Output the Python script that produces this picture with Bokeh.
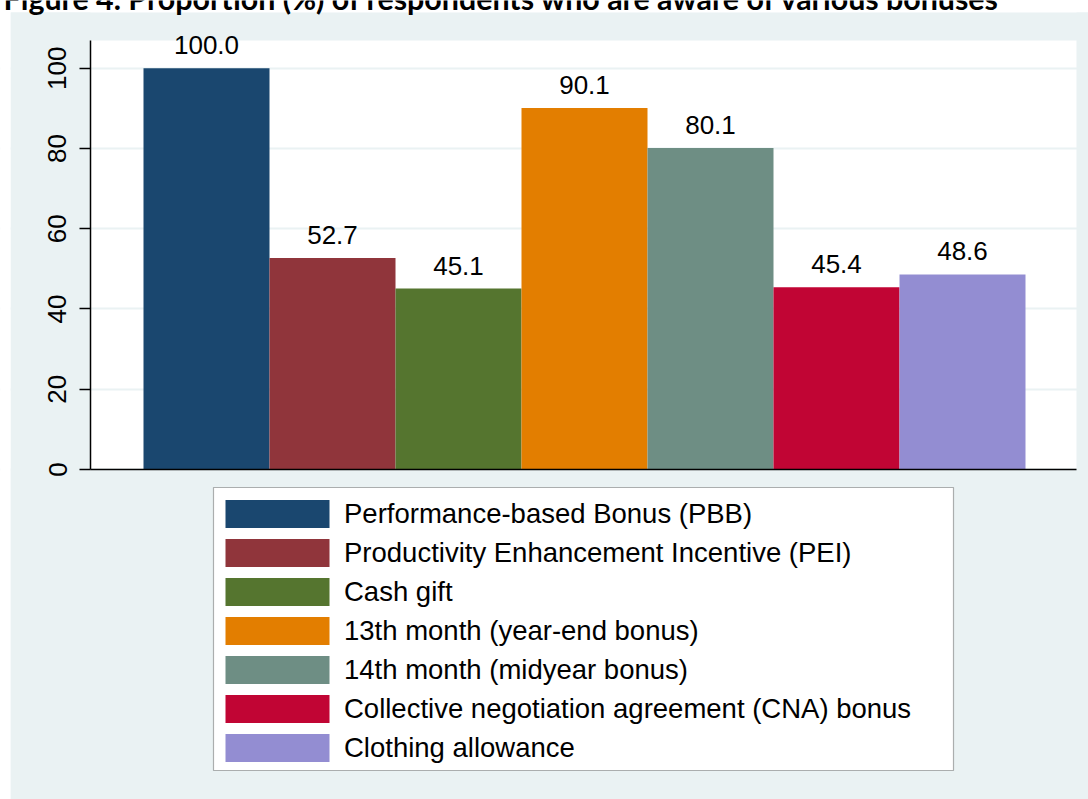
from bokeh.plotting import figure
from bokeh.models import (ColumnDataSource, Range1d, FixedTicker, Legend, LegendItem,
                          Label, LinearAxis, BoxAnnotation)
from bokeh.embed import file_html
from bokeh.resources import INLINE
from bokeh.core.properties import value

# ---- data ----
categories = [
    "Performance-based Bonus (PBB)",
    "Productivity Enhancement Incentive (PEI)",
    "Cash gift",
    "13th month (year-end bonus)",
    "14th month (midyear bonus)",
    "Collective negotiation agreement (CNA) bonus",
    "Clothing allowance",
]
values = [100.0, 52.7, 45.1, 90.1, 80.1, 45.4, 48.6]
colors = ["#1A476F", "#90353B", "#55752F", "#E37E00", "#6E8E84", "#C10534", "#938DD2"]
y_ticks = [0, 20, 40, 60, 80, 100]
title_text = "Figure 4. Proportion (%) of respondents who are aware of various bonuses"

BG = "#EAF2F3"
FONT = "Liberation Sans"

# ---- layout geometry (pixels on the page) ----
W, H = 1088, 799
XPX, X0 = 126.0, 206.0      # px per category, page x of first category centre
YPX, Y0 = 4.013, 469.0      # px per percent, page y of zero line


def xd(px):
    return (px - X0) / XPX


def yd(py):
    return (Y0 - py) / YPX


PLOT_L, PLOT_R, PLOT_T = 90, 1076, 40
REGION_L, REGION_T = 10, 12
LEG_L, LEG_R, LEG_T, LEG_B = 213, 953, 487, 770

p = figure(width=W, height=H, output_backend="svg", toolbar_location=None,
           x_range=Range1d(xd(0), xd(W)), y_range=Range1d(yd(H), yd(0)),
           x_axis_location=None, y_axis_location=None)
p.min_border = 0
p.min_border_left = 0
p.min_border_right = 0
p.min_border_top = 0
p.min_border_bottom = 0
p.title.visible = False
p.border_fill_color = "white"
p.background_fill_color = "white"
p.outline_line_color = None

p.xgrid.grid_line_color = None
p.ygrid.ticker = FixedTicker(ticks=y_ticks)
p.ygrid.grid_line_color = BG
p.ygrid.grid_line_width = 2

# light graph region around the white plot area, white page margin at left
bands = [
    (BG, dict(left=xd(REGION_L), right=xd(W), bottom=yd(PLOT_T), top=yd(REGION_T))),
    (BG, dict(left=xd(REGION_L), right=xd(W), bottom=yd(H), top=0)),
    (BG, dict(left=xd(REGION_L), right=xd(PLOT_L), bottom=yd(H), top=yd(REGION_T))),
    (BG, dict(left=xd(PLOT_R), right=xd(W), bottom=yd(H), top=yd(REGION_T))),
    ("white", dict(left=xd(0), right=xd(REGION_L), bottom=yd(H), top=yd(0))),
]
for col, b in bands:
    p.add_layout(BoxAnnotation(fill_color=col, fill_alpha=1.0, line_color=None,
                               level="underlay", **b))

renderers = []
for i, (cat, v, c) in enumerate(zip(categories, values, colors)):
    src = ColumnDataSource(dict(x=[i], top=[v]))
    r = p.vbar(x="x", top="top", width=1.0, bottom=0, source=src,
               fill_color=c, line_color=None)
    renderers.append(r)

lab_src = ColumnDataSource(dict(x=list(range(len(values))), y=values,
                                t=[f"{v:.1f}" for v in values]))
p.text(x="x", y="y", text="t", source=lab_src, text_align="center",
       text_baseline="alphabetic", y_offset=-23, text_font=value(FONT),
       text_font_size="26px", text_color="black")

# y axis
yaxis = LinearAxis(fixed_location=xd(PLOT_L), bounds=(0, yd(PLOT_T)),
                   ticker=FixedTicker(ticks=y_ticks))
yaxis.major_label_orientation = "vertical"
yaxis.major_label_text_font = FONT
yaxis.major_label_text_font_size = "26px"
yaxis.major_label_text_color = "black"
yaxis.major_tick_out = 11
yaxis.major_tick_in = 0
yaxis.minor_tick_line_color = None
yaxis.axis_line_color = "black"
yaxis.axis_line_width = 1.5
yaxis.major_tick_line_width = 1.5
yaxis.major_label_standoff = 13
p.add_layout(yaxis, "left")

# x axis (line only)
xaxis = LinearAxis(fixed_location=0, bounds=(xd(PLOT_L), xd(PLOT_R)),
                   ticker=FixedTicker(ticks=[]))
xaxis.major_tick_line_color = None
xaxis.minor_tick_line_color = None
xaxis.major_label_text_font_size = "0px"
xaxis.axis_line_color = "black"
xaxis.axis_line_width = 1.5
p.add_layout(xaxis, "below")

# legend frame
p.add_layout(BoxAnnotation(left=xd(LEG_L), right=xd(LEG_R), top=yd(LEG_T), bottom=yd(LEG_B),
                           fill_color="white", fill_alpha=1.0, line_color="black",
                           line_width=1.2))

items = [LegendItem(label=cat, renderers=[r]) for cat, r in zip(categories, renderers)]
legend = Legend(items=items, location=(212, H - 765), orientation="vertical",
                glyph_width=130, glyph_height=35, label_standoff=2,
                padding=10, margin=0, spacing=4,
                label_text_font=FONT, label_text_font_size="27.5px",
                label_text_color="black", border_line_color=None,
                background_fill_alpha=0.0)
p.add_layout(legend, "center")

title = Label(x=xd(3), y=yd(-3), text=title_text,
              text_font="Lato", text_font_style="bold", text_font_size="30.4px",
              text_baseline="alphabetic", text_align="left", text_color="black")
p.add_layout(title)

open("out.html", "w").write(file_html(p, INLINE))
